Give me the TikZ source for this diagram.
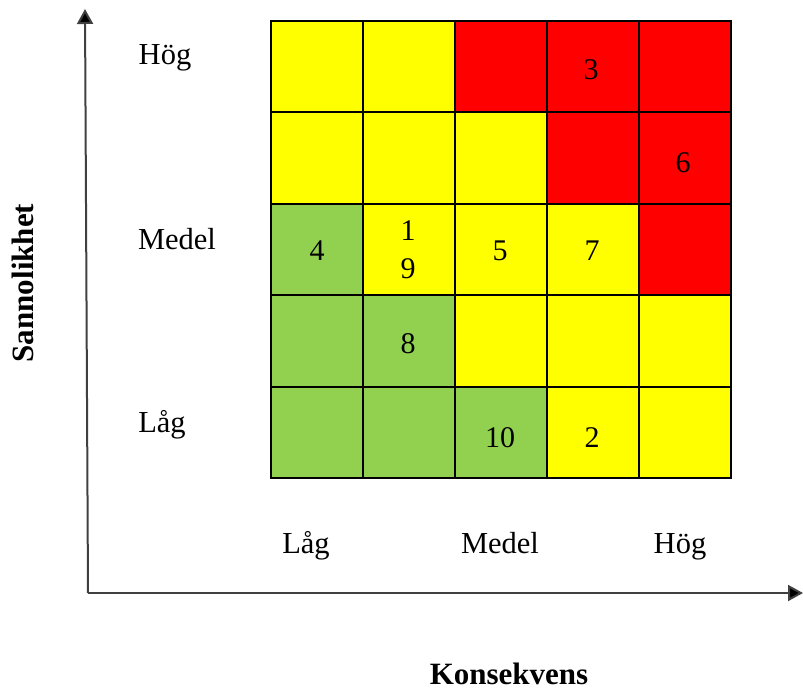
\documentclass[tikz,border=0pt]{standalone}
\usepackage{fontspec}
\setmainfont{Liberation Serif}
\usetikzlibrary{arrows.meta}
\definecolor{cy}{RGB}{255,255,0}
\definecolor{cr}{RGB}{255,0,0}
\definecolor{cg}{RGB}{146,208,80}
\definecolor{axisgray}{RGB}{64,64,64}
\tikzset{
  cell/.style={draw=black, line width=2pt, minimum width=92pt, minimum height=91.4pt, inner sep=0pt, anchor=north west},
  num/.style={font=\fontsize{30}{36}\selectfont, anchor=base, inner sep=0pt},
  lab/.style={font=\fontsize{30.5}{36}\selectfont, anchor=base, inner sep=0pt},
  ttl/.style={font=\fontsize{31}{36}\selectfont\bfseries, anchor=base, inner sep=0pt},
  axis/.style={draw=axisgray, line width=2pt, -{Triangle[length=15pt,width=16pt,fill=black]}}
}
\begin{document}
\begin{tikzpicture}[x=1pt,y=-1pt]
\useasboundingbox (0,0) rectangle (803,690);
% grid
\foreach \r/\row in {0/{cy,cy,cr,cr,cr},1/{cy,cy,cy,cr,cr},2/{cg,cy,cy,cy,cr},3/{cg,cg,cy,cy,cy},4/{cg,cg,cg,cy,cy}}{
  \foreach \c [count=\i from 0] in \row {
    \node[cell, fill=\c] (c\r\i) at ({270+92*\i},{20+91.4*\r}) {};
  }
}
% numbers
\node[num] (n3) at (591,80) {3};
\node[num] (n6) at (683,172) {6};
\node[num] (n4) at (317,260) {4};
\node[num] (n1) at (408,240) {1};
\node[num] (n9) at (408,278) {9};
\node[num] (n5) at (500,260) {5};
\node[num] (n7) at (592,260) {7};
\node[num] (n8) at (408,353) {8};
\node[num] (n10) at (500,447) {10};
\node[num] (n2) at (592,447) {2};
% y labels
\node[lab] (yh) at (165,65) {Hög};
\node[lab] (ym) at (177,249) {Medel};
\node[lab] (yl) at (162,432) {Låg};
% x labels
\node[lab] (xl) at (306,553) {Låg};
\node[lab] (xm) at (500,553) {Medel};
\node[lab] (xh) at (680,553) {Hög};
% axes
\coordinate (o) at (88,593);
\coordinate (ytop) at (85,9);
\coordinate (xend) at (803,593);
\draw[axis] (o) -- (ytop);
\draw[axis] (o) -- (xend);
\node[ttl, rotate=90] (st) at (33,283) {Sannolikhet};
\node[ttl] (kt) at (509,684) {Konsekvens};
\end{tikzpicture}
\end{document}
